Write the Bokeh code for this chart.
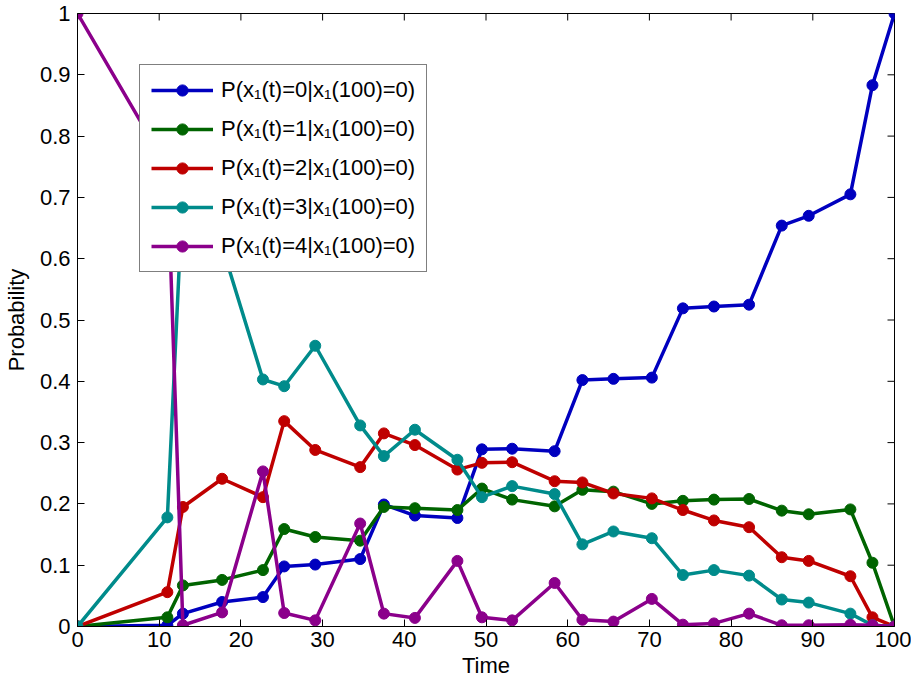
import math
from bokeh.plotting import figure
from bokeh.models import Range1d, FixedTicker, Legend, LegendItem
from bokeh.embed import file_html
from bokeh.resources import INLINE

times = [0, 11.0, 12.9, 17.7, 22.7, 25.3, 29.1, 34.6, 37.5, 41.3, 46.5, 49.5, 53.2,
         58.4, 61.8, 65.6, 70.3, 74.1, 77.9, 82.2, 86.2, 89.5, 94.6, 97.3, 100]

p_state0 = [0, 0.002, 0.021, 0.040, 0.048, 0.098, 0.101, 0.110, 0.199, 0.181, 0.177, 0.289, 0.290,
            0.286, 0.402, 0.404, 0.406, 0.519, 0.522, 0.525, 0.654, 0.670, 0.705, 0.883, 1.0]
p_state1 = [0, 0.015, 0.067, 0.076, 0.092, 0.159, 0.146, 0.140, 0.195, 0.193, 0.190, 0.225, 0.207,
            0.196, 0.223, 0.220, 0.200, 0.205, 0.207, 0.208, 0.189, 0.183, 0.191, 0.104, 0]
p_state2 = [0, 0.056, 0.195, 0.241, 0.211, 0.335, 0.288, 0.260, 0.315, 0.296, 0.256, 0.267, 0.268,
            0.237, 0.235, 0.217, 0.209, 0.190, 0.173, 0.162, 0.113, 0.107, 0.082, 0.015, 0]
p_state3 = [0, 0.178, 0.714, 0.620, 0.403, 0.392, 0.458, 0.328, 0.278, 0.321, 0.272, 0.211, 0.229,
            0.216, 0.134, 0.155, 0.144, 0.084, 0.092, 0.083, 0.044, 0.039, 0.021, 0.002, 0]
p_state4 = [1, 0.749, 0.002, 0.023, 0.253, 0.022, 0.010, 0.168, 0.021, 0.014, 0.107, 0.015, 0.010,
            0.071, 0.011, 0.008, 0.045, 0.003, 0.005, 0.021, 0.002, 0.002, 0.003, 0.002, 0]

series = [p_state0, p_state1, p_state2, p_state3, p_state4]
labels = ["P(x\u2081(t)=%d|x\u2081(100)=0)" % k for k in range(5)]
colors = ["#0000BF", "#006400", "#BF0000", "#008B8B", "#8B008B"]

x_ticks = [0, 10, 20, 30, 40, 50, 60, 70, 80, 90, 100]
y_ticks = [0, 0.1, 0.2, 0.3, 0.4, 0.5, 0.6, 0.7, 0.8, 0.9, 1]
y_tick_labels = ["0", "0.1", "0.2", "0.3", "0.4", "0.5", "0.6", "0.7", "0.8", "0.9", "1"]
x_lo, x_hi = 0, 100
y_lo, y_hi = 0, 1

FONT = "Liberation Sans"
FS = "22px"

p = figure(frame_width=817, frame_height=613, output_backend="svg", toolbar_location=None,
           x_range=Range1d(x_lo, x_hi), y_range=Range1d(y_lo, y_hi),
           min_border_left=77, min_border_right=17, min_border_top=13, min_border_bottom=52)
p.background_fill_color = "white"
p.border_fill_color = "white"
p.outline_line_color = "black"
p.outline_line_width = 1
p.xgrid.visible = False
p.ygrid.visible = False

p.xaxis.ticker = FixedTicker(ticks=x_ticks)
p.yaxis.ticker = FixedTicker(ticks=y_ticks)
p.yaxis.major_label_overrides = {t: s for t, s in zip(y_ticks, y_tick_labels)}
p.xaxis.axis_label = "Time"
p.yaxis.axis_label = "Probability"
for ax in (p.xaxis[0], p.yaxis[0]):
    ax.major_tick_in = 7
    ax.major_tick_out = 0
    ax.minor_tick_in = 0
    ax.minor_tick_out = 0
    ax.axis_line_color = "black"
    ax.major_tick_line_color = "black"
    ax.major_label_text_font = FONT
    ax.major_label_text_font_size = FS
    ax.major_label_text_color = "black"
    ax.axis_label_text_font = FONT
    ax.axis_label_text_font_size = FS
    ax.axis_label_text_font_style = "normal"
    ax.axis_label_text_color = "black"
p.xaxis.major_label_standoff = 5
p.xaxis.axis_label_standoff = 3
p.yaxis.major_label_standoff = 7
p.yaxis.axis_label_standoff = 8

# box ticks on top and right edges (inward, 7 screen px)
p.ray(x=x_ticks, y=[y_hi] * len(x_ticks), length=7, length_units="screen",
      angle=-math.pi / 2, line_color="black", line_width=1)
p.ray(x=[x_hi] * len(y_ticks), y=y_ticks, length=7, length_units="screen",
      angle=math.pi, line_color="black", line_width=1)

items = []
for ys, lab, c in zip(series, labels, colors):
    lr = p.line(times, ys, line_color=c, line_width=3.5)
    sr = p.scatter(times, ys, marker="circle", size=11, fill_color=c, line_color=c)
    items.append(LegendItem(label=lab, renderers=[lr, sr]))

legend = Legend(items=items, location=(62, 354), orientation="vertical",
                glyph_width=62, glyph_height=28, label_height=20, spacing=11,
                padding=11, margin=0, label_standoff=8,
                label_text_font=FONT, label_text_font_size=FS, label_text_color="black",
                border_line_color="black", border_line_width=1,
                background_fill_color="white", background_fill_alpha=1.0)
p.add_layout(legend, "center")

open("out.html", "w").write(file_html(p, INLINE))
